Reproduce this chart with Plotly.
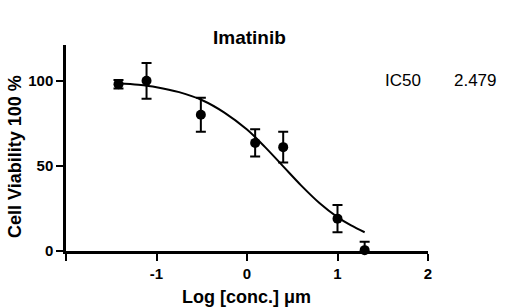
import plotly.graph_objects as go

# Data points (log concentration, viability %, SEM)
log_conc = [-1.42, -1.11, -0.51, 0.09, 0.40, 1.00, 1.30]
viability = [98.0, 100.0, 80.0, 63.5, 61.0, 19.0, 0.5]
error = [2.5, 10.5, 10.0, 8.0, 9.0, 8.0, 5.0]

# Fitted curve
curve_x = [-1.42, -1.2, -1.0, -0.75, -0.5, -0.25, 0.0, 0.2, 0.4, 0.6, 0.8, 1.0, 1.15, 1.3]
curve_y = [98.5, 97.6, 96.2, 93.3, 88.7, 81.3, 71.3, 61.0, 49.7, 38.4, 28.2, 19.9, 15.0, 11.0]

x_ticks = [-2, -1, 0, 1, 2]
x_tick_text = ["", "-1", "0", "1", "2"]
y_ticks = [0, 50, 100]

FONT = "Arial, Liberation Sans, sans-serif"

fig = go.Figure()
fig.add_trace(go.Scatter(
    x=curve_x, y=curve_y, mode="lines", line=dict(color="black", width=2, shape="spline"),
    hoverinfo="skip", showlegend=False))
fig.add_trace(go.Scatter(
    x=log_conc, y=viability, mode="markers",
    marker=dict(color="black", size=10),
    error_y=dict(type="data", array=error, color="black", thickness=2, width=5),
    cliponaxis=False, showlegend=False))

fig.update_layout(
    width=505, height=307,
    margin=dict(l=66, r=77, t=45, b=56, autoexpand=False),
    plot_bgcolor="white", paper_bgcolor="white",
    font=dict(family=FONT, color="black"),
    xaxis=dict(range=[-2, 2], tickvals=x_ticks, ticktext=x_tick_text,
               showline=True, linecolor="black", linewidth=2.5,
               ticks="outside", ticklen=7, tickwidth=2, tickcolor="black",
               showgrid=False, zeroline=False, automargin=False,
               tickfont=dict(size=15, family=FONT, color="black", weight="bold")),
    yaxis=dict(range=[0, 121], tickvals=y_ticks,
               showline=True, linecolor="black", linewidth=2.5,
               ticks="outside", ticklen=7, tickwidth=2, tickcolor="black",
               showgrid=False, zeroline=False, automargin=False,
               tickfont=dict(size=15, family=FONT, color="black", weight="bold")),
)

# Title and axis titles
fig.add_annotation(text="<b>Imatinib</b>", xref="paper", yref="paper", x=(249 - 66) / 362, y=1 + (45 - 37) / 206,
                   xanchor="center", yanchor="middle", showarrow=False,
                   font=dict(size=19, family=FONT, color="black"))
fig.add_annotation(text="<b>Log [conc.] μm</b>", xref="paper", yref="paper", x=(246 - 66) / 362,
                   y=-(297 - 251) / 206, xanchor="center", yanchor="middle", showarrow=False,
                   font=dict(size=18, family=FONT, color="black"))
fig.add_annotation(text="<b>Cell Viability 100 %</b>", xref="paper", yref="paper", x=(15 - 66) / 362,
                   y=(251 - 157) / 206, xanchor="center", yanchor="middle", showarrow=False, textangle=-90,
                   font=dict(size=18, family=FONT, color="black"))

fig.add_annotation(text="IC50&nbsp;&nbsp;&nbsp;&nbsp;&nbsp;&nbsp;&nbsp;2.479", xref="paper", yref="y",
                   x=(383 - 66) / 362, y=100, xanchor="left", yanchor="middle", showarrow=False,
                   font=dict(size=17, family=FONT, color="black"))

fig.write_html("out.html", config={"displayModeBar": False},
               post_script="document.body.style.margin='0';document.body.style.overflow='hidden';")
